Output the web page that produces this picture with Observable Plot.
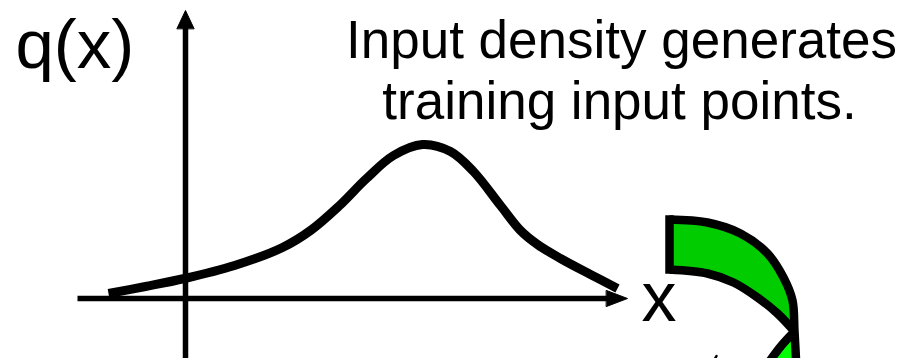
<!DOCTYPE html>
<html>
<head>
<meta charset="utf-8">
<script src="https://cdn.jsdelivr.net/npm/d3@7"></script>
<script src="https://cdn.jsdelivr.net/npm/@observablehq/plot@0.6"></script>
<style>
  html, body { margin: 0; padding: 0; background: #fff; }
  #chart svg { display: block; }
</style>
</head>
<body>
<div id="chart"></div>
<script>
// Density curve q(x) (units: axis origin = 0)
const curveX = [-1.54, -0.80, -0.02, 0.98, 1.94, 2.50, 3.06, 3.62, 4.16, 4.74, 5.30, 5.76, 6.30, 6.70, 7.04, 7.50, 8.10, 8.64];
const curveY = [0.10, 0.24, 0.40, 0.66, 1.02, 1.36, 1.84, 2.40, 2.86, 3.08, 2.94, 2.54, 1.86, 1.36, 1.08, 0.80, 0.48, 0.20];

// Axes (x axis and q(x) axis) and their arrowheads
const xAxisX = [-2.16, 8.50];
const xAxisY = [0, 0];
const yAxisX = [0, 0];
const yAxisY = [-1.30, 5.45];
const xHeadX = [8.42, 8.84, 8.42];
const xHeadY = [0.16, 0, -0.16];
const yHeadX = [-0.17, 0, 0.17];
const yHeadY = [5.40, 5.76, 5.40];

// Green curved ribbon arrow (right side)
const outerX = [9.68, 10.44, 11.10, 11.64, 11.96, 12.14, 12.18, 12.22];
const outerY = [1.58, 1.52, 1.30, 0.90, 0.42, -0.04, -0.66, -1.40];
const innerX = [9.68, 10.44, 10.96, 11.44, 11.84, 12.18];
const innerY = [0.58, 0.50, 0.32, 0.02, -0.30, -0.66];
const lowerX = [12.18, 11.92, 11.62];
const lowerY = [-0.66, -0.94, -1.34];
const edgeX = [9.68, 9.68];
const edgeY = [1.58, 0.58];
const tickX = [10.58, 10.62];
const tickY = [-1.22, -1.15];

// Text labels
const yLabel = "q(x)";
const xLabel = "x";
const titleLines = ["Input density generates", "training input points."];

const pts = (xs, ys) => xs.map((x, i) => ({x, y: ys[i]}));

const curve = pts(curveX, curveY);
const darkPoly = pts(outerX.slice(0, 7), outerY.slice(0, 7))
  .concat(pts(innerX, innerY).reverse());
const lightPoly = [
  {x: outerX[6], y: outerY[6]},
  {x: outerX[7], y: outerY[7]},
  ...pts(lowerX, lowerY).reverse()
];

const font = "Liberation Sans, Arial, Helvetica, sans-serif";

const chart = Plot.plot({
  width: 904,
  height: 358,
  margin: 0,
  x: {domain: [-3.7, 14.38], axis: null},
  y: {domain: [-1.2, 5.96], axis: null},
  style: {background: "#fff", overflow: "hidden"},
  marks: [
    // axes
    Plot.line(pts(xAxisX, xAxisY), {x: "x", y: "y", stroke: "#000", strokeWidth: 5.5, strokeLinecap: "butt"}),
    Plot.line(pts(yAxisX, yAxisY), {x: "x", y: "y", stroke: "#000", strokeWidth: 5.5, strokeLinecap: "butt"}),
    Plot.line(pts(xHeadX, xHeadY), {x: "x", y: "y", fill: "#000", stroke: "#000", strokeWidth: 1, curve: "linear-closed"}),
    Plot.line(pts(yHeadX, yHeadY), {x: "x", y: "y", fill: "#000", stroke: "#000", strokeWidth: 1, curve: "linear-closed"}),
    // density curve
    Plot.line(curve, {x: "x", y: "y", stroke: "#000", strokeWidth: 9, curve: "catmull-rom", strokeLinecap: "butt", strokeLinejoin: "round"}),
    // green ribbon fills
    Plot.line(darkPoly, {x: "x", y: "y", fill: "#00CC00", stroke: "none", curve: "linear-closed"}),
    Plot.line(lightPoly, {x: "x", y: "y", fill: "#00FF00", stroke: "none", curve: "linear-closed"}),
    // green ribbon outlines
    Plot.line(pts(outerX, outerY), {x: "x", y: "y", stroke: "#000", strokeWidth: 8.5, curve: "catmull-rom", strokeLinecap: "butt"}),
    Plot.line(pts(innerX, innerY), {x: "x", y: "y", stroke: "#000", strokeWidth: 8.5, curve: "catmull-rom", strokeLinecap: "butt"}),
    Plot.line(pts(lowerX, lowerY), {x: "x", y: "y", stroke: "#000", strokeWidth: 8.5, curve: "catmull-rom", strokeLinecap: "butt"}),
    Plot.line(pts(edgeX, edgeY), {x: "x", y: "y", stroke: "#000", strokeWidth: 8.5, strokeLinecap: "square"}),
    Plot.line(pts(tickX, tickY), {x: "x", y: "y", stroke: "#000", strokeWidth: 2.5}),
    // labels
    Plot.text([yLabel], {x: -3.4, y: 4.62, text: d => d, textAnchor: "start", lineAnchor: "bottom", fontSize: 69, fontFamily: font, fill: "#000"}),
    Plot.text([xLabel], {x: 9.12, y: -0.44, text: d => d, textAnchor: "start", lineAnchor: "bottom", fontSize: 70, fontFamily: font, fill: "#000"}),
    Plot.text([titleLines[0]], {x: 8.72, y: 4.82, text: d => d, textAnchor: "middle", lineAnchor: "bottom", fontSize: 53, fontFamily: font, fill: "#000"}),
    Plot.text([titleLines[1]], {x: 8.68, y: 3.60, text: d => d, textAnchor: "middle", lineAnchor: "bottom", fontSize: 53, fontFamily: font, fill: "#000"})
  ]
});

document.getElementById("chart").appendChild(chart);
</script>
</body>
</html>
